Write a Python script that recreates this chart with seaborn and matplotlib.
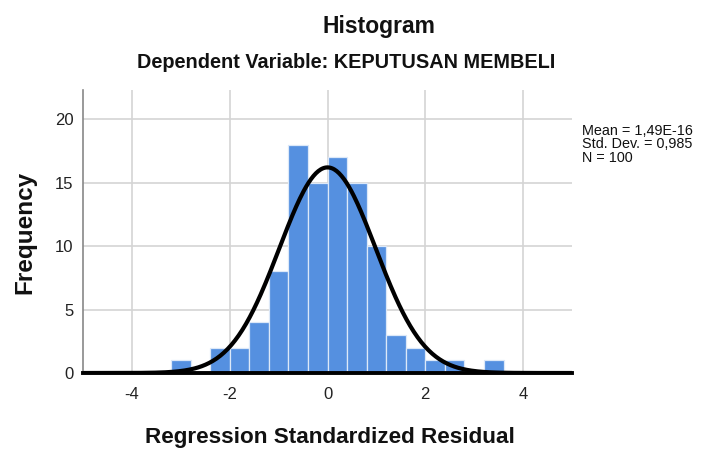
import numpy as np
import pandas as pd
import matplotlib
matplotlib.use("Agg")
import matplotlib.pyplot as plt
import seaborn as sns

# ---- data ----
bin_edges = [-3.2, -2.8, -2.4, -2.0, -1.6, -1.2, -0.8, -0.4, 0.0, 0.4,
             0.8, 1.2, 1.6, 2.0, 2.4, 2.8, 3.2, 3.6]
counts = [1, 0, 2, 2, 4, 8, 18, 15, 17, 15, 10, 3, 2, 1, 1, 0, 1]
mean_val = 1.49e-16
std_val = 0.985
n_val = 100
x_ticks = [-4, -2, 0, 2, 4]
y_ticks = [0, 5, 10, 15, 20]

sns.set_theme(style="white")
plt.rcParams['font.family'] = ['Liberation Sans', 'DejaVu Sans']
plt.rcParams['axes.unicode_minus'] = False

centers = [(a + b) / 2 for a, b in zip(bin_edges[:-1], bin_edges[1:])]
df = pd.DataFrame({"resid": centers, "count": counts})

W, H = 701, 450
fig = plt.figure(figsize=(7.01, 4.5), dpi=100)
ax = fig.add_axes([83 / W, 1 - 373 / H, (572 - 83) / W, (373 - 90) / H])

# grid
ax.set_axisbelow(True)
ax.grid(True, color="#d4d4d4", linewidth=1.2)

sns.histplot(data=df, x="resid", weights="count", bins=bin_edges,
             color="#5590e0", edgecolor="#dce8f8", linewidth=0.9,
             alpha=1.0, ax=ax)

# fitted normal curve
bw = bin_edges[1] - bin_edges[0]
xs = np.linspace(-5, 5, 400)
ys = n_val * bw * np.exp(-0.5 * ((xs - mean_val) / std_val) ** 2) / (std_val * np.sqrt(2 * np.pi))
sns.lineplot(x=xs, y=ys, color="black", linewidth=3.0, ax=ax)

ax.set_xlim(-5, 5)
ax.set_ylim(0, 22.3)
ax.set_xticks(x_ticks)
ax.set_yticks(y_ticks)
ax.tick_params(axis="both", labelsize=12, colors="#222222", length=0)
ax.tick_params(axis="x", pad=10)
ax.tick_params(axis="y", pad=7)

for s in ["top", "right"]:
    ax.spines[s].set_visible(False)
ax.spines["left"].set_color("#888888")
ax.spines["left"].set_linewidth(1.2)
ax.spines["bottom"].set_color("black")
ax.spines["bottom"].set_linewidth(2.8)

ax.set_xlabel("")
ax.set_ylabel("")
fig.text(330 / W, 1 - 437 / H, "Regression Standardized Residual", ha="center",
         va="center", fontsize=16.2, fontweight="bold", color="#111111")
fig.text(25 / W, 1 - 232 / H, "Frequency", ha="center", va="center", rotation=90,
         fontsize=17.5, fontweight="bold", color="#111111")

fig.text(379 / W, 1 - 27 / H, "Histogram", ha="center", va="center",
         fontsize=16.5, fontweight="bold", color="#111111")
fig.text(346 / W, 1 - 62 / H, "Dependent Variable: KEPUTUSAN MEMBELI",
         ha="center", va="center", fontsize=14.3, fontweight="bold", color="#111111")

stats_txt = "Mean = 1,49E-16\nStd. Dev. = 0,985\nN = 100"
fig.text(582 / W, 1 - 124 / H, stats_txt, ha="left", va="top", fontsize=10.4,
         color="#111111", linespacing=0.95)

fig.savefig("out.png", dpi=100)
